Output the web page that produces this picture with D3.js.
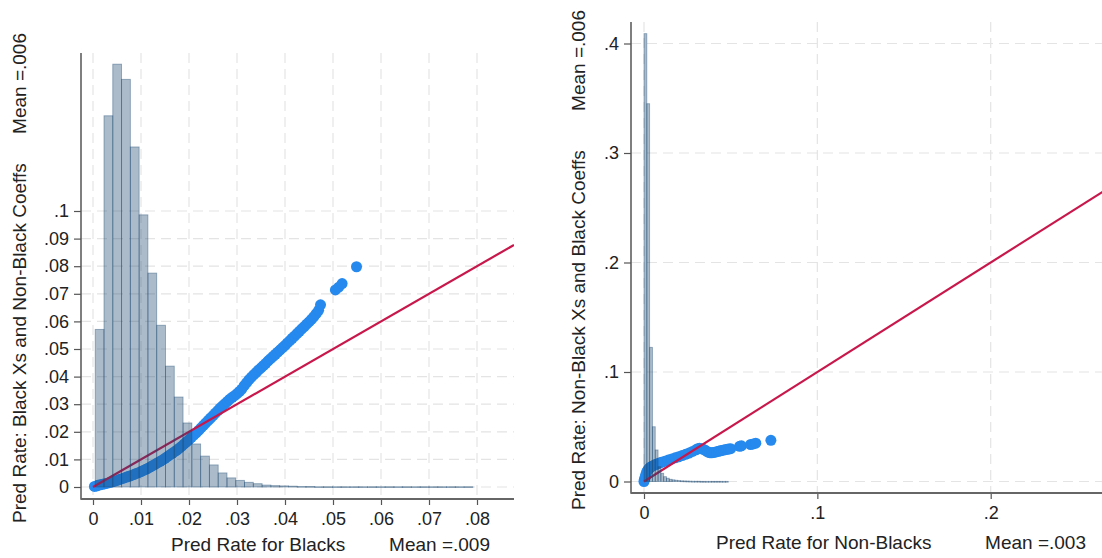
<!DOCTYPE html>
<html>
<head>
<meta charset="utf-8">
<script src="https://cdn.jsdelivr.net/npm/d3@7"></script>
<style>
  body { margin: 0; background: #fff; }
  svg { display: block; font-family: "Liberation Sans", Arial, Helvetica, sans-serif; }
</style>
</head>
<body>
<div id="chart"></div>
<script>
// ---- data ----
const leftXTicks = [0, .01, .02, .03, .04, .05, .06, .07, .08];
const leftYTicks = [0, .01, .02, .03, .04, .05, .06, .07, .08, .09, .1];
const rightXTicks = [0, .1, .2];
const rightYTicks = [0, .1, .2, .3, .4];

// histogram heights in y-axis units, bins of equal width
const leftHistStart = 0.00046;
const leftHistWidth = 0.00183;
const leftHist = [0.0571, 0.1345, 0.1532, 0.1477, 0.1232, 0.0986, 0.0775, 0.0586, 0.0438, 0.0326,
  0.0232, 0.0156, 0.0112, 0.0080, 0.0051, 0.0033, 0.0024, 0.0017, 0.0012, 0.0007,
  0.0005, 0.0004, 0.0003, 0.0002, 0.0002, 0.0001, 0.0001, 0.0001, 0.0001, 0.0001,
  0.0001, 0.0001, 0.0001, 0.0001, 0.0001, 0, 0.0001, 0.0001, 0, 0.0001,
  0, 0.0001, 0.0001, 0, 0.0001, 0, 0.0001, 0.0001];

const rightHistStart = 0;
const rightHistWidth = 0.00162;
const rightHist = [0.409, 0.345, 0.1225, 0.050, 0.0288, 0.0135, 0.0075, 0.0044, 0.0030, 0.0020,
  0.0015, 0.0011, 0.0008, 0.0006, 0.0005, 0.0004, 0.0003, 0.0002, 0.0002, 0.0002,
  0.0001, 0.0001, 0.0001, 0.0001, 0.0001, 0, 0, 0.0001, 0, 0.0001,
  0, 0, 0.0001, 0, 0, 0.0001, 0, 0, 0, 0,
  0, 0, 0, 0, 0.0001];

// scatter: [x, y]
const leftPoints = [
  [0.0003, 0.0002], [0.0008, 0.0004], [0.001, 0.0006], [0.0015, 0.0008], [0.002, 0.0010],
  [0.0025, 0.0012], [0.003, 0.0014], [0.0035, 0.0016], [0.004, 0.0019], [0.0045, 0.0021],
  [0.005, 0.0024], [0.0055, 0.0027], [0.006, 0.0030], [0.0065, 0.0033], [0.007, 0.0036],
  [0.0075, 0.0039], [0.008, 0.0042], [0.0085, 0.0045], [0.009, 0.0049], [0.0095, 0.0052],
  [0.010, 0.0056], [0.0105, 0.0060], [0.011, 0.0064], [0.0115, 0.0068], [0.012, 0.0073],
  [0.0125, 0.0078], [0.013, 0.0083], [0.0135, 0.0088], [0.014, 0.0093], [0.0145, 0.0098],
  [0.015, 0.0104], [0.0155, 0.0110], [0.016, 0.0116], [0.0165, 0.0122], [0.017, 0.0128],
  [0.0175, 0.0134], [0.018, 0.0141], [0.0185, 0.0148], [0.019, 0.0156], [0.0195, 0.0164],
  [0.020, 0.0172], [0.0205, 0.0180], [0.021, 0.0188], [0.0215, 0.0196], [0.022, 0.0205],
  [0.0225, 0.0214], [0.023, 0.0223], [0.0235, 0.0232], [0.024, 0.0241], [0.0245, 0.0250],
  [0.025, 0.0259], [0.0255, 0.0268], [0.026, 0.0277], [0.0265, 0.0286], [0.027, 0.0294],
  [0.0275, 0.0302], [0.028, 0.0310], [0.0285, 0.0318], [0.029, 0.0325], [0.0295, 0.0331],
  [0.030, 0.0338], [0.0305, 0.0346], [0.031, 0.0355], [0.0315, 0.0367], [0.032, 0.0378],
  [0.0325, 0.0389], [0.033, 0.0398], [0.0335, 0.0407], [0.034, 0.0415], [0.0345, 0.0424],
  [0.035, 0.0432], [0.0355, 0.0440], [0.036, 0.0448], [0.0365, 0.0457], [0.037, 0.0465],
  [0.0375, 0.0473], [0.038, 0.0481], [0.0385, 0.0489], [0.039, 0.0497], [0.0395, 0.0505],
  [0.040, 0.0513], [0.0405, 0.0522], [0.041, 0.0530], [0.0415, 0.0539], [0.042, 0.0547],
  [0.0425, 0.0556], [0.043, 0.0564], [0.0435, 0.0573], [0.044, 0.0581], [0.0445, 0.0590],
  [0.045, 0.0598], [0.0455, 0.0607], [0.046, 0.0617], [0.0465, 0.0628], [0.047, 0.0640],
  [0.0474, 0.0660], [0.0505, 0.0714], [0.0512, 0.0724], [0.0519, 0.0737], [0.0549, 0.0798]
];
const rightPoints = [
  [0, 0], [0.0002, 0.0015], [0.0005, 0.003], [0.0008, 0.0045], [0.001, 0.006],
  [0.0015, 0.0085], [0.002, 0.0100], [0.0025, 0.0110], [0.003, 0.0120], [0.0035, 0.0127],
  [0.004, 0.0133], [0.005, 0.0142], [0.006, 0.0150], [0.007, 0.0157], [0.008, 0.0163],
  [0.009, 0.0169], [0.010, 0.0175], [0.012, 0.0186], [0.014, 0.0196], [0.016, 0.0206],
  [0.018, 0.0216], [0.020, 0.0226], [0.022, 0.0237], [0.024, 0.0248], [0.026, 0.0260],
  [0.028, 0.0275], [0.030, 0.0290], [0.031, 0.0300], [0.032, 0.0303], [0.033, 0.0300],
  [0.034, 0.0295], [0.035, 0.0288], [0.036, 0.0278], [0.037, 0.0268], [0.038, 0.0263],
  [0.039, 0.0262], [0.040, 0.0265], [0.041, 0.0268], [0.042, 0.0272], [0.043, 0.0276],
  [0.044, 0.0280], [0.045, 0.0284], [0.046, 0.0288], [0.047, 0.0291], [0.048, 0.0294],
  [0.049, 0.0297], [0.050, 0.0300], [0.0552, 0.0322], [0.0562, 0.0326], [0.0615, 0.0338],
  [0.0630, 0.0343], [0.0645, 0.0350], [0.0732, 0.0376]
];

const leftYTitle = "Pred Rate: Black Xs and Non-Black Coeffs";
const leftYMean = "Mean =.006";
const leftXTitle = "Pred Rate for Blacks";
const leftXMean = "Mean =.009";
const rightYTitle = "Pred Rate: Non-Black Xs and Black Coeffs";
const rightYMean = "Mean =.006";
const rightXTitle = "Pred Rate for Non-Blacks";
const rightXMean = "Mean =.003";

// ---- drawing ----
const W = 1102, H = 558;
const svg = d3.select("#chart").append("svg").attr("width", W).attr("height", H);

const BLUE = "#2589ee", RED = "#c8174b", NAVY = "#1a476f";
const fmt = d => d === 0 ? "0" : String(d).replace(/^0/, "");

function panel(cfg) {
  const x = d3.scaleLinear().domain(cfg.xDomain).range(cfg.xRange);
  const y = d3.scaleLinear().domain(cfg.yDomain).range(cfg.yRange);
  const g = svg.append("g");

  const clipId = "clip" + cfg.id;
  svg.append("clipPath").attr("id", clipId).append("rect")
    .attr("x", cfg.left).attr("y", cfg.top)
    .attr("width", cfg.right - cfg.left).attr("height", cfg.bottom - cfg.top);

  // grid
  g.selectAll(".hg").data(cfg.yTicks).enter().append("line")
    .attr("x1", cfg.left).attr("x2", cfg.right)
    .attr("y1", d => y(d)).attr("y2", d => y(d))
    .attr("stroke", "#e4e4e4").attr("stroke-width", 1.2).attr("stroke-dasharray", "10,6");
  g.selectAll(".vg").data(cfg.xTicks).enter().append("line")
    .attr("y1", cfg.top).attr("y2", cfg.bottom)
    .attr("x1", d => x(d)).attr("x2", d => x(d))
    .attr("stroke", "#e4e4e4").attr("stroke-width", 1.2).attr("stroke-dasharray", "10,6");

  const plot = g.append("g").attr("clip-path", `url(#${clipId})`);

  // scatter
  plot.selectAll("circle").data(cfg.points).enter().append("circle")
    .attr("cx", d => x(d[0])).attr("cy", d => y(d[1])).attr("r", 5.5)
    .attr("fill", BLUE);

  // 45 degree line
  const xmax = x.invert(cfg.right);
  plot.append("line")
    .attr("x1", x(0)).attr("y1", y(0)).attr("x2", x(xmax)).attr("y2", y(xmax))
    .attr("stroke", RED).attr("stroke-width", 2.2);

  // histogram on top, translucent
  plot.selectAll("rect.bar").data(cfg.hist).enter().append("rect")
    .filter(d => d > 0)
    .attr("class", "bar")
    .attr("x", (d, i) => x(cfg.histStart + i * cfg.histWidth))
    .attr("width", (d, i) => x(cfg.histStart + (i + 1) * cfg.histWidth) - x(cfg.histStart + i * cfg.histWidth))
    .attr("y", d => y(d))
    .attr("height", d => Math.max(0.8, y(0) - y(d)))
    .attr("fill", NAVY).attr("fill-opacity", 0.37)
    .attr("stroke", NAVY).attr("stroke-opacity", 0.42).attr("stroke-width", 0.9);

  // axes
  const yAxis = d3.axisLeft(y).tickValues(cfg.yTicks).tickFormat(fmt).tickSize(7).tickPadding(5).tickSizeOuter(0);
  const ya = g.append("g").attr("transform", `translate(${cfg.left},0)`).call(yAxis);
  const xAxis = d3.axisBottom(x).tickValues(cfg.xTicks).tickFormat(fmt).tickSize(6).tickPadding(7).tickSizeOuter(0);
  const xa = g.append("g").attr("transform", `translate(0,${cfg.bottom})`).call(xAxis);
  [ya, xa].forEach(a => {
    a.select(".domain").remove();
    a.selectAll("line").attr("stroke", "#555").attr("stroke-width", 1.2);
    a.selectAll("text").attr("fill", "#222").style("font-size", "18px");
  });
  g.append("line").attr("x1", cfg.left).attr("x2", cfg.left).attr("y1", cfg.top).attr("y2", cfg.bottom + 0.75)
    .attr("stroke", "#555").attr("stroke-width", 1.5);
  g.append("line").attr("x1", cfg.left).attr("x2", cfg.right).attr("y1", cfg.bottom).attr("y2", cfg.bottom)
    .attr("stroke", "#666").attr("stroke-width", 1.8);

  // titles
  const t = g.append("g").attr("fill", "#222").style("font-size", "19px");
  t.append("text").attr("transform", `translate(${cfg.yTitleX},${cfg.yTitleStart}) rotate(-90)`)
    .attr("text-anchor", "start").text(cfg.yTitle);
  t.append("text").attr("transform", `translate(${cfg.yTitleX},${cfg.yMeanEnd}) rotate(-90)`)
    .attr("text-anchor", "end").text(cfg.yMean);
  t.append("text").attr("x", cfg.xTitleStart).attr("y", cfg.xTitleY)
    .attr("text-anchor", "start").text(cfg.xTitle);
  t.append("text").attr("x", cfg.xMeanEnd).attr("y", cfg.xTitleY)
    .attr("text-anchor", "end").text(cfg.xMean);
}

panel({
  id: "L",
  xDomain: [0, 0.08], xRange: [93, 477],
  yDomain: [0, 0.1], yRange: [487, 211],
  left: 81, right: 514, top: 53, bottom: 499,
  xTicks: leftXTicks, yTicks: leftYTicks,
  points: leftPoints,
  hist: leftHist, histStart: leftHistStart, histWidth: leftHistWidth,
  yTitle: leftYTitle, yMean: leftYMean, xTitle: leftXTitle, xMean: leftXMean,
  yTitleX: 26, yTitleStart: 523, yMeanEnd: 33,
  xTitleStart: 171, xMeanEnd: 490, xTitleY: 551
});

panel({
  id: "R",
  xDomain: [0, 0.2], xRange: [644, 990.7],
  yDomain: [0, 0.4], yRange: [481.5, 43.5],
  left: 631, right: 1110, top: 22, bottom: 493,
  xTicks: rightXTicks, yTicks: rightYTicks,
  points: rightPoints,
  hist: rightHist, histStart: rightHistStart, histWidth: rightHistWidth,
  yTitle: rightYTitle, yMean: rightYMean, xTitle: rightXTitle, xMean: rightXMean,
  yTitleX: 585, yTitleStart: 510, yMeanEnd: 10,
  xTitleStart: 716, xMeanEnd: 1086, xTitleY: 549
});
</script>
</body>
</html>
